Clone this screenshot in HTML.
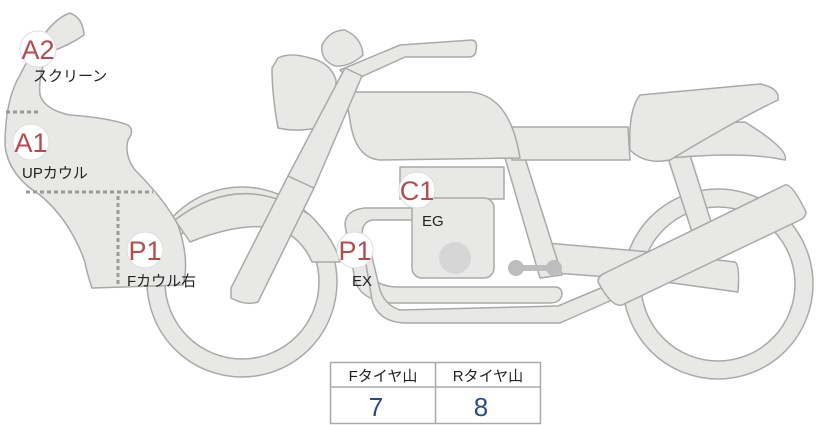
<!DOCTYPE html>
<html><head><meta charset="utf-8"><style>
html,body{margin:0;padding:0;background:#fff}
svg{display:block}
text{font-family:"Liberation Sans","Noto Sans CJK JP",sans-serif}
</style></head><body>
<svg width="822" height="425" viewBox="0 0 822 425" xmlns="http://www.w3.org/2000/svg">
<g fill="#e8e8e6" stroke="#a9a9a9" stroke-width="1.5" stroke-linejoin="round">
<circle cx="718" cy="284" r="86" fill="none" stroke="#a9a9a9" stroke-width="19.5"/>
<circle cx="718" cy="284" r="86" fill="none" stroke="#e8e8e6" stroke-width="16.5"/>
<circle cx="242" cy="282" r="86" fill="none" stroke="#a9a9a9" stroke-width="19.5"/>
<circle cx="242" cy="282" r="86" fill="none" stroke="#e8e8e6" stroke-width="16.5"/>
<path d="M668,158 L690,155 L712,225 L692,232 Z"/>
<path d="M650,125 L745,122 Q790,150 785,160 Q740,150 650,160 Z"/>
<path d="M535,242 L650,252 L735,262 Q740,265 738,292 L650,280 L540,272 Z"/>
<path d="M175,220 Q240,170 310,215 Q335,240 340,262 L312,262 Q300,235 275,228 Q240,222 190,242 Z"/>
<path d="M505,158 L525,158 L562,275 L540,278 Z"/>
<path d="M345,225 Q345,210 365,208 L415,208 L415,220 L372,220 Q362,222 362,235 L370,275 Q375,285 395,287 L555,287 Q562,287 562,295 Q560,303 550,303 L390,303 Q360,300 355,280 Z"/>
<path d="M362,240 L372,300 Q378,322 405,323 L560,323 L612,300 L608,285 L558,306 L400,310 Q385,305 380,290 L368,240 Z"/>
<path d="M512,127 L628,127 L630,160 L512,160 Z"/>
<path d="M640,95 L760,84 Q780,88 778,100 Q740,118 670,160 Q645,165 630,150 Q628,110 640,95 Z"/>
<rect x="400" y="167" width="104" height="32"/>
<rect x="412" y="198" width="82" height="80" rx="10"/>
<path d="M345,92 L470,92 Q510,95 520,158 L380,160 Q355,158 350,120 Z"/>
<path d="M340,70 L400,45 L472,40 Q478,41 476,50 Q476,56 470,57 L405,57 L350,82 Z"/>
<path d="M322,45 Q330,30 345,30 Q362,38 363,55 Q350,67 335,66 Q320,60 322,45 Z"/>
<path d="M278,58 Q290,52 310,58 Q330,62 336,80 Q336,110 325,126 Q300,133 278,128 Q272,95 272,68 Z"/>
<path d="M231,288 L288,176 L314,188 L258,302 Q245,306 231,298 Z"/>
<path d="M288,176 L345,68 L362,76 L314,188 Z"/>
<path d="M605,273 L785,185 Q792,183 806,212 Q806,217 800,220 L622,305 Q612,308 598,282 Q598,276 605,273 Z"/>
<path d="M40,40 Q55,18 70,13 Q83,18 84,35 Q70,45 50,52 Q38,70 40,95 Q45,110 70,115 Q110,118 128,125 Q135,130 128,140 Q124,155 135,170 Q165,200 178,225 Q190,260 183,285 L92,288 Q86,270 85,262 Q70,220 40,195 Q8,175 5,145 Q5,100 20,75 Q30,55 40,40 Z"/>
</g>
<g stroke="#9a9a9a" stroke-width="3" stroke-dasharray="4 3" fill="none">
<line x1="6" y1="112" x2="40" y2="112"/>
<line x1="26" y1="192" x2="153" y2="192"/>
<line x1="118" y1="196" x2="118" y2="286"/>
</g>
<circle cx="455" cy="258" r="16" fill="#d6d6d6"/>
<g fill="#bdbdbd">
<circle cx="516" cy="268" r="8"/><circle cx="554" cy="268" r="8"/>
<rect x="516" y="265" width="38" height="6"/>
</g>
<g fill="#fff" stroke="#ddd" stroke-width="1">
<circle cx="38" cy="49" r="18"/>
<circle cx="31" cy="142" r="18"/>
<circle cx="145" cy="250" r="18"/>
<circle cx="355" cy="250" r="18"/>
<circle cx="417" cy="190" r="18"/>
</g>
<g fill="#b84a4e" font-size="27" text-anchor="middle">
<text x="38" y="59">A2</text>
<text x="31" y="152">A1</text>
<text x="145" y="260">P1</text>
<text x="355" y="260">P1</text>
<text x="417" y="200">C1</text>
</g>
<g fill="#222" font-size="15">
<text x="33" y="81">スクリーン</text>
<text x="22" y="178">UPカウル</text>
<text x="127" y="286">Fカウル右</text>
<text x="352" y="286">EX</text>
<text x="422" y="226">EG</text>
</g>
<g fill="none" stroke="#a9a9a9" stroke-width="1.5">
<rect x="330.5" y="362.5" width="210" height="61"/>
<line x1="330" y1="387" x2="541" y2="387"/>
<line x1="435.5" y1="362" x2="435.5" y2="424"/>
</g>
<g font-size="15" fill="#222" text-anchor="middle">
<text x="383" y="381">Fタイヤ山</text>
<text x="488" y="381">Rタイヤ山</text>
</g>
<g font-size="26" fill="#2b4a8a" text-anchor="middle">
<text x="376" y="416">7</text>
<text x="481" y="416">8</text>
</g>
</svg>
</body></html>
